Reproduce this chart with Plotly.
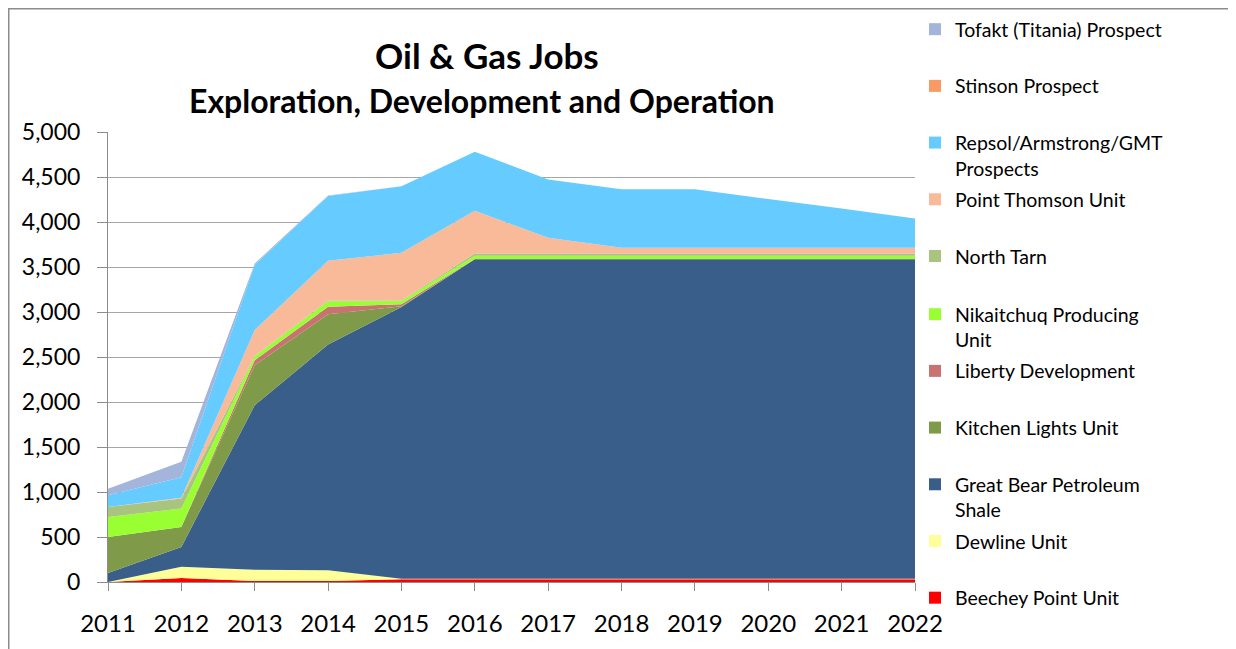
import plotly.graph_objects as go

years = [2011, 2012, 2013, 2014, 2015, 2016, 2017, 2018, 2019, 2020, 2021, 2022]

beechey     = [0, 45, 10, 10, 30, 30, 30, 30, 30, 30, 30, 30]
dewline     = [0, 125, 125, 120, 5, 5, 5, 5, 5, 5, 5, 5]
great_bear  = [100, 220, 1830, 2510, 3020, 3550, 3550, 3550, 3550, 3550, 3550, 3550]
kitchen     = [400, 222, 444, 334, 10, 0, 0, 0, 0, 0, 0, 0]
liberty     = [0, 0, 55, 85, 20, 5, 5, 5, 5, 5, 5, 5]
nikaitchuq  = [223, 205, 45, 60, 37, 35, 35, 35, 35, 35, 35, 35]
north_tarn  = [110, 110, 5, 10, 5, 25, 25, 25, 25, 25, 25, 25]
pt_thomson  = [0, 10, 285, 440, 530, 475, 175, 65, 65, 65, 65, 65]
repsol      = [130, 226, 725, 720, 740, 655, 648, 650, 650, 540, 435, 325]
stinson     = [0, 0, 0, 0, 0, 0, 0, 0, 0, 0, 0, 0]
tofakt      = [74, 174, 15, 5, 0, 0, 0, 0, 0, 0, 0, 0]

series = [
    ("Beechey Point Unit", beechey, "#FF0000"),
    ("Dewline Unit", dewline, "#FFFF99"),
    ("Great Bear Petroleum<br>Shale", great_bear, "#3A5E8A"),
    ("Kitchen Lights Unit", kitchen, "#7F9A48"),
    ("Liberty Development", liberty, "#C87272"),
    ("Nikaitchuq Producing<br>Unit", nikaitchuq, "#99FF33"),
    ("North Tarn", north_tarn, "#A9C47F"),
    ("Point Thomson Unit", pt_thomson, "#F9BA9A"),
    ("Repsol/Armstrong/GMT<br>Prospects", repsol, "#66CCFF"),
    ("Stinson Prospect", stinson, "#F79A64"),
    ("Tofakt (Titania) Prospect", tofakt, "#A3B5DA"),
]

FONT = "Lato"
OFF = 8  # page body margin
fig = go.Figure()

for name, vals, col in series:
    fig.add_trace(go.Scatter(
        x=years, y=vals, stackgroup="one", mode="none",
        fillcolor=col, line=dict(width=0), name=name.replace("<br>", " "),
        showlegend=False, hoverinfo="x+y+name",
    ))

# legend entries, top to bottom as in the reference
for i, (name, vals, col) in enumerate(reversed(series)):
    label = name if "<br>" in name else name + "<br> "
    fig.add_trace(go.Bar(
        x=[None], y=[None], name=label, marker=dict(color=col, line=dict(width=0)),
        showlegend=True, legendgroup="g%d" % i,
        legend="legend" if i < 5 else "legend2",
    ))

# page-pixel geometry of the plot area
L, R, T, B = 108, 915, 132, 582
W, H = 1236 - OFF, 649 - OFF
pw, ph = R - L, B - T

def px(xp):
    return (xp - L) / pw

def py(yp):
    return (B - yp) / ph

leg_common = dict(
    xanchor="left", yanchor="top", traceorder="grouped", tracegroupgap=3,
    font=dict(size=19.5, family=FONT, color="black"),
    bgcolor="rgba(0,0,0,0)", valign="top",
)

fig.update_layout(
    width=W, height=H,
    margin=dict(l=L - OFF, r=W - (R - OFF), t=T - OFF, b=H - (B - OFF), pad=0,
                autoexpand=False),
    paper_bgcolor="white", plot_bgcolor="white",
    font=dict(family=FONT, color="black"),
    showlegend=True,
    legend=dict(x=px(915), y=py(10), **leg_common),
    legend2=dict(x=px(915), y=py(295), **leg_common),
    xaxis=dict(
        range=[2011, 2022], tickmode="array", tickvals=years,
        ticktext=[str(y) for y in years],
        showgrid=False, zeroline=False,
        showline=True, linecolor="#8C8C8C", linewidth=1,
        ticks="outside", ticklen=8, tickcolor="#8C8C8C",
        tickfont=dict(size=24, family=FONT, color="black"),
        ticklabelstandoff=12,
    ),
    yaxis=dict(
        range=[0, 5000], tickvals=list(range(0, 5001, 500)),
        tickformat=",", showgrid=True, gridcolor="#A6A6A6", gridwidth=1,
        zeroline=False, showline=True, linecolor="#8C8C8C", linewidth=1,
        ticks="outside", ticklen=10, tickcolor="#8C8C8C",
        tickfont=dict(size=23, family=FONT, color="black"),
        ticklabelstandoff=12,
    ),
    annotations=[
        dict(text="<b>Oil &amp; Gas Jobs</b>", x=px(487), y=py(55), xref="paper", yref="paper",
             showarrow=False, xanchor="center", yanchor="middle",
             font=dict(size=35, family=FONT, color="black")),
        dict(text="<b>Exploration, Development and Operation</b>", x=px(482), y=py(101),
             xref="paper", yref="paper", showarrow=False, xanchor="center", yanchor="middle",
             font=dict(size=32, family=FONT, color="black")),
    ],
    shapes=[
        dict(type="rect", xref="paper", yref="paper",
             x0=px(OFF + 0.5), x1=px(1230), y0=py(700), y1=py(OFF + 0.5),
             line=dict(color="#8C8C8C", width=2), fillcolor="rgba(0,0,0,0)", layer="below"),
    ],
)

fig.write_html("out.html")
